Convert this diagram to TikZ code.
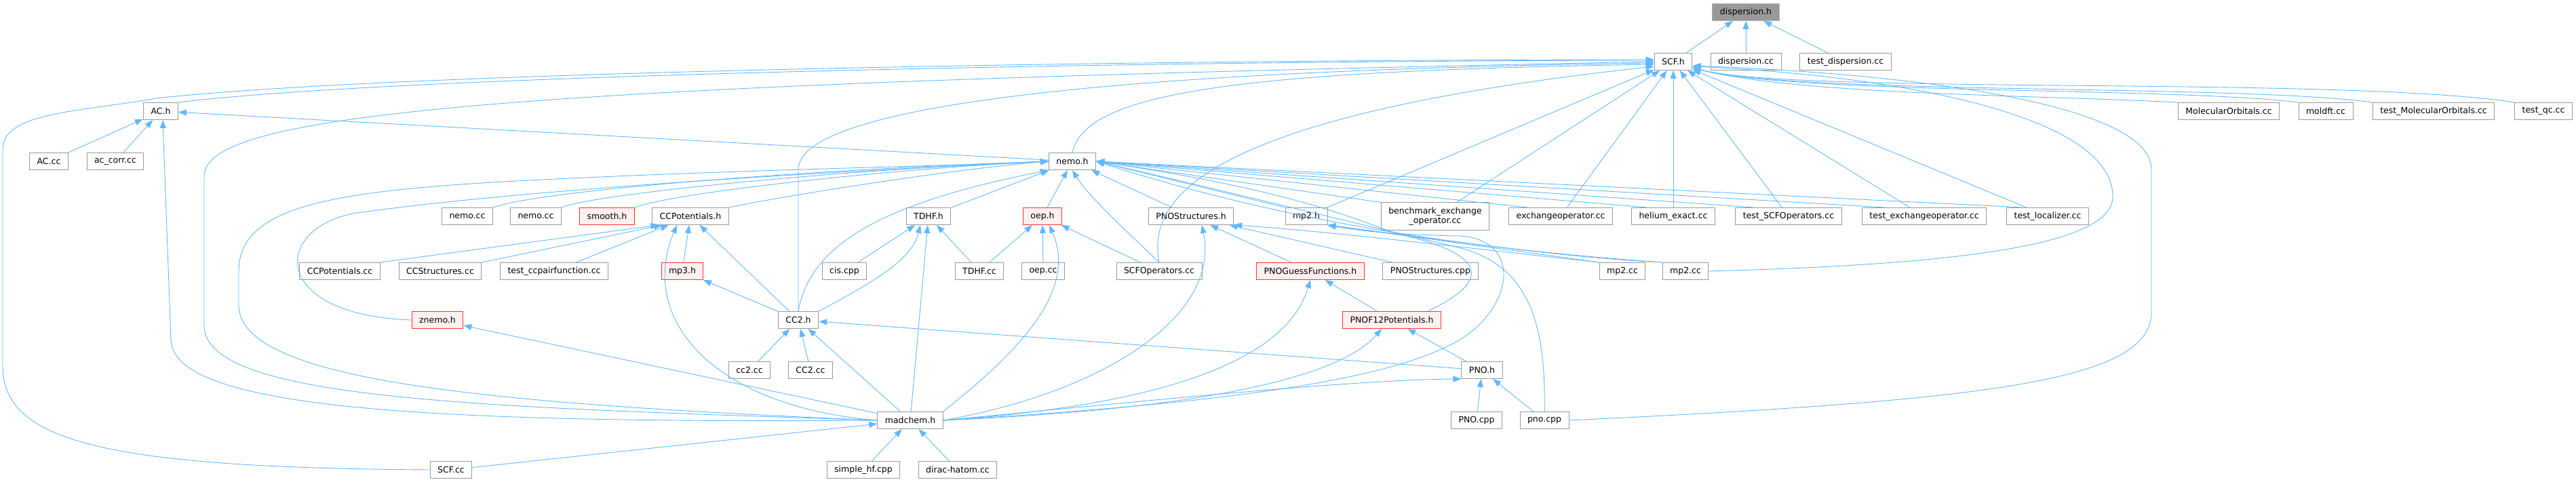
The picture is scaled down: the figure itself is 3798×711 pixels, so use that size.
\documentclass[tikz,border=0pt]{standalone}
\usepackage{fontspec}
\setmainfont{DejaVu Sans}
\usetikzlibrary{arrows.meta}
\definecolor{edgeblue}{HTML}{63B8FF}
\definecolor{boxgray}{HTML}{999999}
\definecolor{rootfill}{HTML}{999999}
\definecolor{rootline}{HTML}{B0B0B0}
\definecolor{truncfill}{HTML}{FFF0F0}
\definecolor{truncline}{HTML}{FF3333}
\tikzstyle{file} = [rectangle,
minimum height=25pt,
inner xsep=11pt,
inner ysep=2pt,
text centered,
fill=white,
draw=boxgray,
line width=1pt,
font=\fontsize{12.5}{14.5}\selectfont]
\tikzstyle{root} = [file, fill=rootfill, draw=rootline]
\tikzstyle{trunc} = [file, fill=truncfill, draw=truncline]
\tikzstyle{incl} = [line width=0.9pt, color=edgeblue, -{Triangle[length=12pt,width=9pt]}]

\begin{document}
\begin{tikzpicture}[x=1pt, y=-1pt]
        \useasboundingbox (0,0) rectangle (3798,711);
        % row 0 and 1
        \node (disph) [root] at (2574,18) {dispersion.h};
        \node (scfh) [file] at (2467,91) {SCF.h};
        \node (dispcc) [file] at (2574,91) {dispersion.cc};
        \node (testdisp) [file] at (2721,91) {test\_dispersion.cc};
        % row 2
        \node (ach) [file] at (237,164) {AC.h};
        \node (mocc) [file] at (3286,164) {MolecularOrbitals.cc};
        \node (moldft) [file] at (3429,164) {moldft.cc};
        \node (testmo) [file] at (3588,164) {test\_MolecularOrbitals.cc};
        \node (testqc) [file] at (3750,164) {test\_qc.cc};
        % row 3
        \node (accc) [file] at (72,238) {AC.cc};
        \node (accorr) [file] at (170,238) {ac\_corr.cc};
        \node (nemoh) [file] at (1581,238) {nemo.h};
        % row 4
        \node (nemocca) [file] at (689,319) {nemo.cc};
        \node (nemoccb) [file] at (790,319) {nemo.cc};
        \node (smooth) [trunc] at (895,319) {smooth.h};
        \node (ccpoth) [file] at (1018,319) {CCPotentials.h};
        \node (tdhfh) [file] at (1369,319) {TDHF.h};
        \node (oeph) [trunc] at (1537,319) {oep.h};
        \node (pnostrh) [file] at (1756,319) {PNOStructures.h};
        \node (mp2h) [file] at (1926,319) {mp2.h};
        \node (bench) [file, minimum height=40pt, align=center] at (2116,319) {benchmark\_exchange\\\_operator.cc};
        \node (exop) [file] at (2301,319) {exchangeoperator.cc};
        \node (helium) [file] at (2467,319) {helium\_exact.cc};
        \node (testscfop) [file] at (2637,319) {test\_SCFOperators.cc};
        \node (testexop) [file] at (2837,319) {test\_exchangeoperator.cc};
        \node (testloc) [file] at (3019,319) {test\_localizer.cc};
        % row 5
        \node (ccpotcc) [file] at (501,400) {CCPotentials.cc};
        \node (ccstr) [file] at (649,400) {CCStructures.cc};
        \node (testccpair) [file] at (817,400) {test\_ccpairfunction.cc};
        \node (mp3h) [trunc] at (1006,400) {mp3.h};
        \node (cis) [file] at (1245,400) {cis.cpp};
        \node (tdhfcc) [file] at (1444,400) {TDHF.cc};
        \node (oepcc) [file] at (1538,400) {oep.cc};
        \node (scfop) [file] at (1709,400) {SCFOperators.cc};
        \node (pnoguess) [trunc] at (1932,400) {PNOGuessFunctions.h};
        \node (pnostrcpp) [file] at (2109,400) {PNOStructures.cpp};
        \node (mp2cca) [file] at (2392,400) {mp2.cc};
        \node (mp2ccb) [file] at (2485,400) {mp2.cc};
        % row 6
        \node (znemo) [trunc] at (645,472) {znemo.h};
        \node (cc2h) [file] at (1177,472) {CC2.h};
        \node (pnof12) [trunc] at (2052,472) {PNOF12Potentials.h};
        % row 7
        \node (cc2cca) [file] at (1105,546) {cc2.cc};
        \node (cc2ccb) [file] at (1195,546) {CC2.cc};
        \node (pnoh) [file] at (2185,546) {PNO.h};
        % row 8
        \node (madchem) [file] at (1342,620) {madchem.h};
        \node (pnocpp) [file] at (2177,620) {PNO.cpp};
        \node (pnocpp2) [file] at (2277,620) {pno.cpp};
        % row 9
        \node (scfcc) [file] at (665,693) {SCF.cc};
        \node (simplehf) [file] at (1273,693) {simple\_hf.cpp};
        \node (dirac) [file] at (1412,693) {dirac-hatom.cc};

        % dispersion.h
        \draw [incl] (scfh) -- (disph);
        \draw [incl] (dispcc) -- (disph);
        \draw [incl] (testdisp) -- (disph);

        % SCF.h
        \draw [incl] (ach.north east) .. controls (600,110) and (1700,90) .. ([yshift=2pt]scfh.west);
        \draw [incl] (scfcc.west) .. controls (150,690) and (4,650) .. (4,540) -- (4,220) .. controls (4,165) and (120,165) .. (230,145) .. controls (600,105) and (1700,88) .. ([yshift=3pt]scfh.west);
        \draw [incl] (madchem.west) .. controls (700,600) and (301,590) .. (301,480) -- (301,260) .. controls (301,170) and (700,125) .. (scfh.west);
        \draw [incl] (cc2h.north) -- (1177,250) .. controls (1177,160) and (1600,105) .. ([yshift=-2pt]scfh.west);
        \draw [incl] (nemoh.north) .. controls (1600,140) and (1800,105) .. ([yshift=-4pt]scfh.west);
        \draw [incl] (scfop.north) .. controls (1690,290) and (1780,170) .. ([yshift=-7pt]scfh.west);
        \draw [incl] (mp2h) -- (scfh);
        \draw [incl] (bench) -- (scfh);
        \draw [incl] (exop) -- (scfh);
        \draw [incl] (helium) -- (scfh);
        \draw [incl] (testscfop) -- (scfh);
        \draw [incl] (testexop) -- (scfh);
        \draw [incl] (testloc) -- (scfh);
        \draw [incl] (mocc.north west) .. controls (3000,140) and (2650,140) .. ([yshift=4pt]scfh.south east);
        \draw [incl] (moldft.north west) .. controls (3200,128) and (2650,140) .. ([yshift=4pt]scfh.south east);
        \draw [incl] (testmo.north west) .. controls (3300,124) and (2650,140) .. ([yshift=4pt]scfh.south east);
        \draw [incl] (testqc.north west) .. controls (3450,112) and (2650,140) .. ([yshift=4pt]scfh.south east);
        \draw [incl] (mp2ccb.east) .. controls (2900,390) and (3115,360) .. (3115,290) .. controls (3115,170) and (2800,112) .. ([yshift=6pt]scfh.south east);
        \draw [incl] (pnocpp2.east) .. controls (2950,590) and (3172,560) .. (3172,460) -- (3172,250) .. controls (3172,150) and (2800,108) .. ([yshift=7pt]scfh.south east);

        % AC.h
        \draw [incl] (accc) -- (ach);
        \draw [incl] (accorr) -- (ach);
        \draw [incl] (nemoh) -- (ach);
        \draw [incl] (madchem.west) .. controls (600,625) and (252,600) .. (252,500) -- ([xshift=3pt]ach.south);

        % nemo.h
        \draw [incl] (nemocca.north east) .. controls (800,280) and (1200,250) .. (nemoh.west);
        \draw [incl] (nemoccb.north east) .. controls (880,285) and (1250,250) .. (nemoh.west);
        \draw [incl] (smooth.north east) .. controls (990,285) and (1300,250) .. (nemoh.west);
        \draw [incl] (ccpoth.north east) .. controls (1150,290) and (1400,250) .. (nemoh.west);
        \draw [incl] (znemo.west) .. controls (400,465) and (400,340) .. (520,315) .. controls (800,275) and (1300,250) .. (nemoh.west);
        \draw [incl] (madchem.west) .. controls (700,595) and (352,560) .. (352,450) -- (352,400) .. controls (352,300) and (500,280) .. (800,265) .. controls (1100,250) and (1400,245) .. (nemoh.west);
        \draw [incl] (cc2h.north) .. controls (1195,360) and (1300,300) .. (nemoh.south west);
        \draw [incl] (tdhfh) -- (nemoh);
        \draw [incl] (oeph) -- (nemoh);
        \draw [incl] (scfop.north) .. controls (1660,340) and (1605,290) .. (nemoh.south);
        \draw [incl] (pnostrh) -- (nemoh);
        \draw [incl] (mp2h.north west) -- (nemoh.east);
        \draw [incl] (bench.north west) -- (nemoh.east);
        \draw [incl] ([xshift=28pt]exop.north west) -- (nemoh.east);
        \draw [incl] ([xshift=23pt]helium.north west) -- (nemoh.east);
        \draw [incl] ([xshift=27pt]testscfop.north west) -- (nemoh.east);
        \draw [incl] ([xshift=34pt]testexop.north west) -- (nemoh.east);
        \draw [incl] ([xshift=24pt]testloc.north west) -- (nemoh.east);
        \draw [incl] ([xshift=-20pt]pnof12.north east) .. controls (2230,400) and (2150,365) .. (2060,345) .. controls (1990,320) and (1900,280) .. (nemoh.east);
        \draw [incl] (pnocpp2.north) .. controls (2280,470) and (2250,390) .. (2150,365) .. controls (2000,330) and (1800,280) .. (nemoh.east);
        \draw [incl] (mp2ccb.north west) .. controls (2250,372) and (1950,345) .. (nemoh.east);

        % CCPotentials.h
        \draw [incl] (ccpotcc.north east) -- ([xshift=10pt]ccpoth.south west);
        \draw [incl] (ccstr.north east) -- ([xshift=15pt]ccpoth.south west);
        \draw [incl] (testccpair) -- (ccpoth);
        \draw [incl] (mp3h) -- (ccpoth);
        \draw [incl] (cc2h) -- (ccpoth);
        \draw [incl] (madchem.west) .. controls (1050,600) and (940,470) .. ([xshift=-20pt]ccpoth.south);

        % mp3.h, CC2.h
        \draw [incl] (cc2h) -- (mp3h);
        \draw [incl] (cc2cca) -- (cc2h);
        \draw [incl] (cc2ccb) -- (cc2h);
        \draw [incl] (madchem) -- (cc2h);
        \draw [incl] (pnoh) -- (cc2h);

        % TDHF.h
        \draw [incl] (cis) -- (tdhfh);
        \draw [incl] (tdhfcc) -- (tdhfh);
        \draw [incl] (madchem) -- (tdhfh);
        \draw [incl] (cc2h.north east) .. controls (1300,410) and (1345,380) .. ([xshift=-12pt]tdhfh.south);

        % oep.h
        \draw [incl] (tdhfcc) -- (oeph);
        \draw [incl] (oepcc) -- (oeph);
        \draw [incl] (scfop) -- (oeph);
        \draw [incl] (madchem.north east) .. controls (1500,520) and (1590,430) .. ([xshift=10pt]oeph.south);

        % PNOStructures.h, mp2.h
        \draw [incl] (pnoguess) -- (pnostrh);
        \draw [incl] (pnostrcpp) -- (pnostrh);
        \draw [incl] (madchem.east) .. controls (1620,580) and (1800,470) .. ([xshift=16pt]pnostrh.south);
        \draw [incl] (mp2cca.north west) .. controls (2200,370) and (1950,340) .. (pnostrh.south east);
        \draw [incl] (mp2cca.north west) -- (mp2h.south east);
        \draw [incl] (mp2ccb.north west) .. controls (2300,380) and (2100,350) .. (mp2h.south east);
        \draw [incl] (madchem.east) .. controls (1800,595) and (2100,560) .. (2180,480) .. controls (2240,420) and (2225,350) .. (2150,348) .. controls (2050,346) and (2000,340) .. (mp2h.south east);

        % PNOGuessFunctions.h, PNOF12Potentials.h, PNO.h
        \draw [incl] (pnof12) -- (pnoguess);
        \draw [incl] (madchem.east) .. controls (1750,595) and (1900,520) .. (pnoguess.south);
        \draw [incl] (pnoh) -- (pnof12);
        \draw [incl] (madchem.east) .. controls (1850,600) and (1990,540) .. ([xshift=-15pt]pnof12.south);
        \draw [incl] (pnocpp) -- (pnoh);
        \draw [incl] (pnocpp2) -- (pnoh);
        \draw [incl] (madchem.east) .. controls (1700,590) and (2000,560) .. (pnoh.south west);

        % madchem.h, znemo.h
        \draw [incl] (madchem) -- (znemo);
        \draw [incl] (scfcc) -- (madchem);
        \draw [incl] (simplehf) -- (madchem);
        \draw [incl] (dirac) -- (madchem);
    \end{tikzpicture}
\end{document}
